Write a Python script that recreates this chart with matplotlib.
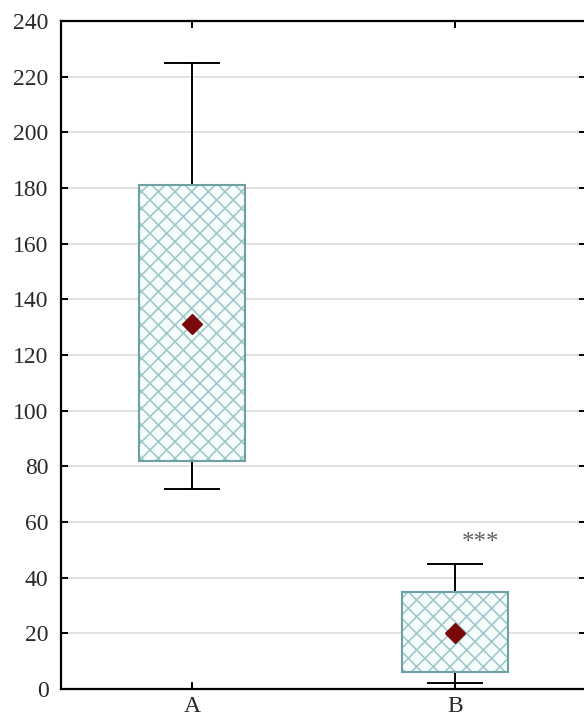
import numpy as np
import matplotlib.pyplot as plt
from matplotlib.patches import PathPatch

groups = ["A", "B"]
q1 = [82, 6]
q3 = [181, 35]
wlo = [72, 2]
whi = [225, 45]
means = [131, 20]
sig_labels = ["", "***"]
sig_y = [None, 52.5]

plt.rcParams['font.family'] = ['Liberation Serif', 'DejaVu Serif']
plt.rcParams['hatch.linewidth'] = 1.2

fig = plt.figure(figsize=(5.84, 7.17), dpi=100)
ax = fig.add_axes([61 / 584, 1 - 689 / 717, (586 - 61) / 584, (689 - 21) / 717])

stats = []
for i in range(len(groups)):
    stats.append({
        'label': groups[i],
        'q1': q1[i], 'q3': q3[i],
        'med': means[i], 'mean': means[i],
        'whislo': wlo[i], 'whishi': whi[i],
        'fliers': [],
    })

pos = np.arange(len(groups))
bp = ax.bxp(stats, positions=pos, widths=0.403, patch_artist=True,
            showmeans=True, showfliers=False,
            medianprops=dict(linewidth=0),
            meanprops=dict(marker='D', markerfacecolor='#7a0a0a',
                           markeredgecolor='#7a0a0a', markersize=10),
            whiskerprops=dict(color='black', linewidth=1.4),
            capprops=dict(color='black', linewidth=1.4),
            capwidths=0.205)
for b in bp['boxes']:
    # hatch takes the edge colour, so draw the outline again on top
    b.set_facecolor('#f5fcfc')
    b.set_edgecolor('#a3c8cc')
    b.set_linewidth(0)
    b.set_hatch('xx')
    b.set_zorder(2)
    outline = PathPatch(b.get_path(), fill=False, edgecolor='#6fa0a3',
                        linewidth=1.5, zorder=2.5)
    ax.add_patch(outline)
for m in bp['means']:
    m.set_zorder(4)

for i in range(len(groups)):
    if sig_labels[i]:
        ax.text(pos[i] + 0.1, sig_y[i], sig_labels[i], ha='center', va='center',
                fontsize=18, color='#606060')

ax.set_xlim(-0.5, 1.5)
ax.set_ylim(0, 240)
ax.set_yticks(np.arange(0, 241, 20))
ax.set_xticks(pos)
ax.set_xticklabels(groups)
ax.yaxis.grid(True, color='#dcdcdc', linewidth=1.2)
ax.set_axisbelow(True)
ax.spines['right'].set_visible(False)
for s in ['left', 'top', 'bottom']:
    ax.spines[s].set_linewidth(1.6)
ax.tick_params(axis='both', direction='in', labelsize=17, length=5, width=1.4,
               colors='black', labelcolor='#2a2a2a')
ax.tick_params(axis='y', right=True, pad=9)
ax.tick_params(axis='x', top=True, pad=5, labelsize=17)

fig.savefig('out.png', dpi=100)
